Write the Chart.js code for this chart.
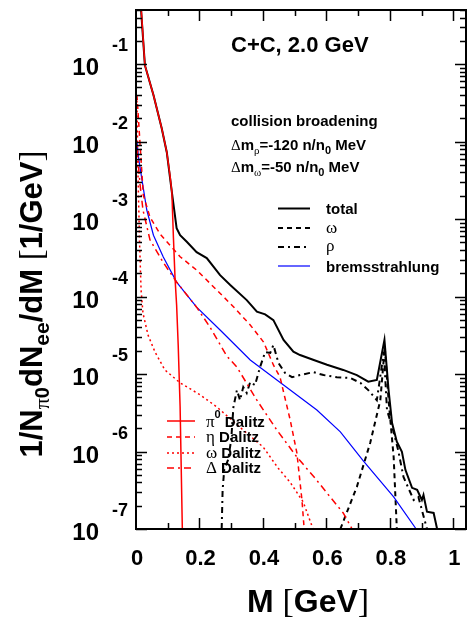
<!DOCTYPE html>
<html>
<head>
<meta charset="utf-8">
<script src="https://cdn.jsdelivr.net/npm/chart.js@4.4.1/dist/chart.umd.min.js"></script>
<style>html,body{margin:0;padding:0;background:#fff}canvas{display:block}</style>
</head>
<body>
<canvas id="c" width="471" height="618"></canvas>
<script>
// values, M in GeV, yield in 1/GeV
const totalMass = [0.016,0.028,0.055,0.081,0.097,0.113,0.128,0.139,0.160,0.191,0.223,0.265,0.297,0.349,0.381,0.407,0.433,0.465,0.496,0.517,0.558,0.602,0.653,0.696,0.732,0.759,0.783,0.796,0.807,0.822,0.838,0.849,0.870,0.886,0.901,0.906,0.917,0.938,0.949];
const totalVal  = [0.5,0.097,0.040,0.0149,7.3e-3,2.23e-3,7.65e-4,6.2e-4,5.1e-4,3.75e-4,3.14e-4,1.89e-4,1.41e-4,9.0e-5,6.4e-5,5.9e-5,4.97e-5,2.75e-5,1.94e-5,1.76e-5,1.53e-5,1.32e-5,1.13e-5,9.7e-6,7.96e-6,8.4e-6,2.75e-5,6.2e-6,2.33e-6,1.34e-6,9.9e-7,5.8e-7,3.4e-7,3.2e-7,2.37e-7,2.75e-7,1.67e-7,1.61e-7,1.0e-7];

const pi0Mass = [0.016,0.028,0.055,0.081,0.097,0.107,0.113,0.118,0.123,0.128,0.133,0.139,0.146,1.0];
const pi0Val  = [0.55,0.097,0.040,0.0149,7.3e-3,3.7e-3,2.23e-3,5.7e-4,1.73e-4,7.8e-5,2.37e-5,3.8e-6,1.0e-7,1.0e-7];

const etaMass = [0.003,0.013,0.023,0.044,0.076,0.139,0.191,0.255,0.307,0.360,0.402,0.433,0.454,0.486,0.507,0.523,0.530];
const etaVal  = [0.040,9.0e-3,2.04e-3,1.06e-3,6.4e-4,3.27e-4,2.2e-4,1.21e-4,7.4e-5,4.3e-5,2.59e-5,1.31e-5,9.1e-6,2.55e-6,9.6e-7,2.37e-7,1.0e-7];

const omegaDalMass = [0.003,0.006,0.011,0.016,0.022,0.038,0.060,0.091,0.139,0.202,0.255,0.338,0.401,0.448,0.486,0.527,0.558];
const omegaDalVal  = [0.034,4.3e-3,5.4e-4,1.21e-4,6.1e-5,3.18e-5,1.92e-5,1.13e-5,7.7e-6,5.4e-6,3.75e-6,1.89e-6,1.14e-6,6.1e-7,4.0e-7,2.23e-7,1.0e-7];

const deltaMass = [0.003,0.013,0.022,0.044,0.085,0.128,0.191,0.233,0.286,0.318,0.381,0.444,0.507,0.565,0.612,0.653,0.681];
const deltaVal  = [7.8e-3,2.75e-3,1.31e-3,5.4e-4,2.79e-4,1.54e-4,7.3e-5,4.04e-5,1.71e-5,1.23e-5,4.6e-6,1.89e-6,8.5e-7,4.5e-7,2.59e-7,1.61e-7,1.0e-7];

const bremsMass = [0.003,0.009,0.018,0.034,0.055,0.086,0.128,0.191,0.265,0.360,0.465,0.570,0.644,0.717,0.812,0.883];
const bremsVal  = [9.9e-3,5.8e-3,3.38e-3,1.31e-3,6.2e-4,3.24e-4,1.54e-4,7.3e-5,3.7e-5,1.52e-5,7.2e-6,3.43e-6,1.79e-6,7.5e-7,2.59e-7,1.0e-7];

const omegaMass = [0.644,0.696,0.738,0.770,0.784,0.796,0.812,0.822];
const omegaVal  = [1.0e-7,3.5e-7,1.29e-6,4.6e-6,2.23e-5,4.6e-6,8.5e-7,1.0e-7];

const rhoMass = [0.270,0.273,0.278,0.290,0.300,0.307,0.318,0.328,0.338,0.349,0.360,0.375,0.391,0.407,0.423,0.433,0.449,0.470,0.492,0.517,0.559,0.591,0.633,0.675,0.707,0.732,0.759,0.781,0.791,0.812,0.826,0.843,0.875,0.890,0.901,0.917];
const rhoVal  = [1.0e-7,3.2e-7,5.8e-7,7.8e-7,1.41e-6,3.75e-6,6.2e-6,4.6e-6,6.8e-6,5.7e-6,7.9e-6,7.2e-6,1.23e-5,1.92e-5,1.87e-5,2.37e-5,1.39e-5,1.03e-5,9.1e-6,9.7e-6,1.06e-5,9.7e-6,9.1e-6,8.9e-6,7.7e-6,6.2e-6,4.6e-6,1.92e-5,3.43e-6,1.79e-6,1.05e-6,4.7e-7,2.37e-7,2.59e-7,1.76e-7,1.0e-7];

const xTicks = [0,0.2,0.4,0.6,0.8,1];
const xTickLabels = ['0','0.2','0.4','0.6','0.8','1'];
const yDecades = [-7,-6,-5,-4,-3,-2,-1];

const RED = '#ff0000';
const zip = (m, v) => m.map((x, i) => ({x: x, y: v[i]}));
const DASH = {solid: [], dash: [5,4], dot: [2,3], dashdot: [7,4,2,4], rho: [6,4,2,4]};

function ds(m, v, color, width, dash) {
  return {data: zip(m, v), borderColor: color, borderWidth: width, borderDash: dash,
          pointRadius: 0, tension: 0, fill: false};
}

const SANS = '"Liberation Sans", Arial, sans-serif';
const SERIF = '"Liberation Serif", "Times New Roman", serif';
const B = s => 'bold ' + s + 'px ' + SANS;
const N = s => s + 'px ' + SERIF;

// draw a row of text pieces: [text, font, dy]
function rich(ctx, x, y, segs, align) {
  let w = 0;
  segs.forEach(s => { ctx.font = s[1]; w += ctx.measureText(s[0]).width; });
  if (align === 'center') x -= w / 2;
  if (align === 'right') x -= w;
  ctx.textAlign = 'left';
  ctx.textBaseline = 'alphabetic';
  segs.forEach(s => { ctx.font = s[1]; ctx.fillText(s[0], x, y + (s[2] || 0)); x += ctx.measureText(s[0]).width; });
}

function legendLine(ctx, x0, x1, y, color, width, dash) {
  ctx.save();
  ctx.strokeStyle = color; ctx.lineWidth = width; ctx.setLineDash(dash);
  ctx.beginPath(); ctx.moveTo(x0, y); ctx.lineTo(x1, y); ctx.stroke();
  ctx.restore();
}

const decor = {
  id: 'decor',
  afterDraw(chart) {
    const ctx = chart.ctx, a = chart.chartArea;
    const xs = chart.scales.x, ys = chart.scales.y;
    ctx.save();
    ctx.strokeStyle = '#000'; ctx.fillStyle = '#000';
    ctx.lineWidth = 2;
    ctx.strokeRect(a.left, a.top, a.right - a.left, a.bottom - a.top);

    // y ticks, left and right, inside the frame
    ctx.lineWidth = 1.5;
    yDecades.forEach(e => {
      for (let k = 1; k <= 9; k++) {
        const v = k * Math.pow(10, e);
        if (v > ys.max) break;
        const y = Math.round(ys.getPixelForValue(v)) + 0.5;
        const len = k === 1 ? 11 : 6;
        ctx.beginPath();
        ctx.moveTo(a.left, y); ctx.lineTo(a.left + len, y);
        ctx.moveTo(a.right, y); ctx.lineTo(a.right - len, y);
        ctx.stroke();
      }
    });
    // x ticks, bottom and top
    for (let i = 1; i <= 10; i++) {
      const x = Math.round(xs.getPixelForValue(i / 10)) + 0.5;
      const len = i % 2 === 0 ? 11 : 6;
      ctx.beginPath();
      ctx.moveTo(x, a.bottom); ctx.lineTo(x, a.bottom - len);
      ctx.moveTo(x, a.top); ctx.lineTo(x, a.top + len);
      ctx.stroke();
    }

    // y tick labels 10^e
    yDecades.forEach(e => {
      const y = ys.getPixelForValue(Math.pow(10, e));
      ctx.font = B(24); ctx.textAlign = 'right'; ctx.textBaseline = 'alphabetic';
      ctx.fillText('10', 99, y + 11);
      ctx.font = B(18);
      ctx.fillText(String(e), 128, y - 13);
    });
    // x tick labels
    xTicks.forEach((v, i) => {
      ctx.font = B(22); ctx.textAlign = 'center'; ctx.textBaseline = 'alphabetic';
      ctx.fillText(xTickLabels[i], xs.getPixelForValue(v) + 1, 565);
    });

    // axis titles
    rich(ctx, 308, 612, [['M ', B(32)], ['[', N(34)], ['GeV', B(32)], [']', N(34)]], 'center');
    ctx.save();
    ctx.translate(42, 304);
    ctx.rotate(-Math.PI / 2);
    rich(ctx, 0, 0, [['1/N', B(31)], ['\u03c0', N(22), 7], ['0', B(20), 7], ['dN', B(31)], ['ee', B(21), 7],
                     ['/dM ', B(31)], ['[', N(33)], ['1/GeV', B(31)], [']', N(33)]], 'center');
    ctx.restore();

    // annotations
    rich(ctx, 231, 52, [['C+C, 2.0 GeV', B(22)]]);
    rich(ctx, 231, 126, [['collision broadening', B(15)]]);
    rich(ctx, 231, 150, [['\u0394', N(15)], ['m', B(15)], ['\u03c1', N(11), 4], ['=-120 n/n', B(15)], ['0', B(11), 4], [' MeV', B(15)]]);
    rich(ctx, 231, 172, [['\u0394', N(15)], ['m', B(15)], ['\u03c9', N(11), 4], ['=-50 n/n', B(15)], ['0', B(11), 4], [' MeV', B(15)]]);

    // legend, upper right
    legendLine(ctx, 278, 310, 208.5, '#000', 2, DASH.solid);
    legendLine(ctx, 278, 310, 228, '#000', 2, DASH.dash);
    legendLine(ctx, 278, 310, 247, '#000', 2, DASH.rho);
    legendLine(ctx, 278, 310, 266, '#0000ff', 1.2, DASH.solid);
    rich(ctx, 326, 214, [['total', B(15)]]);
    rich(ctx, 326, 233, [['\u03c9', N(17)]]);
    rich(ctx, 326, 251, [['\u03c1', N(17)]]);
    rich(ctx, 326, 272, [['bremsstrahlung', B(15)]]);

    // legend, lower left
    legendLine(ctx, 167, 195, 421, RED, 1.5, DASH.solid);
    legendLine(ctx, 167, 195, 437, RED, 1.5, DASH.dash);
    legendLine(ctx, 167, 195, 453, RED, 1.5, DASH.dot);
    legendLine(ctx, 167, 195, 468, RED, 1.5, DASH.dashdot);
    rich(ctx, 206, 427, [['\u03c0', N(17)], ['0', B(11), -9], [' Dalitz', B(15)]]);
    rich(ctx, 206, 442, [['\u03b7', N(17)], [' Dalitz', B(15)]]);
    rich(ctx, 206, 458, [['\u03c9', N(17)], [' Dalitz', B(15)]]);
    rich(ctx, 206, 473, [['\u0394', N(17)], [' Dalitz', B(15)]]);
    ctx.restore();
  }
};

new Chart(document.getElementById('c'), {
  type: 'line',
  data: {
    datasets: [
      ds(pi0Mass, pi0Val, RED, 1.5, DASH.solid),
      ds(etaMass, etaVal, RED, 1.5, DASH.dash),
      ds(omegaDalMass, omegaDalVal, RED, 1.5, DASH.dot),
      ds(deltaMass, deltaVal, RED, 1.5, DASH.dashdot),
      ds(bremsMass, bremsVal, '#0000ff', 1.2, DASH.solid),
      ds(omegaMass, omegaVal, '#000', 2, DASH.dash),
      ds(rhoMass, rhoVal, '#000', 2, DASH.rho),
      ds(totalMass, totalVal, '#000', 2, DASH.solid)
    ]
  },
  options: {
    responsive: false,
    animation: false,
    events: [],
    layout: {padding: {left: 136, right: 5, top: 10, bottom: 89}},
    plugins: {legend: {display: false}, tooltip: {enabled: false}},
    scales: {
      x: {type: 'linear', min: 0, max: 1.04, display: false},
      y: {type: 'logarithmic', min: 1e-7, max: 0.5, display: false}
    }
  },
  plugins: [decor]
});
</script>
</body>
</html>
